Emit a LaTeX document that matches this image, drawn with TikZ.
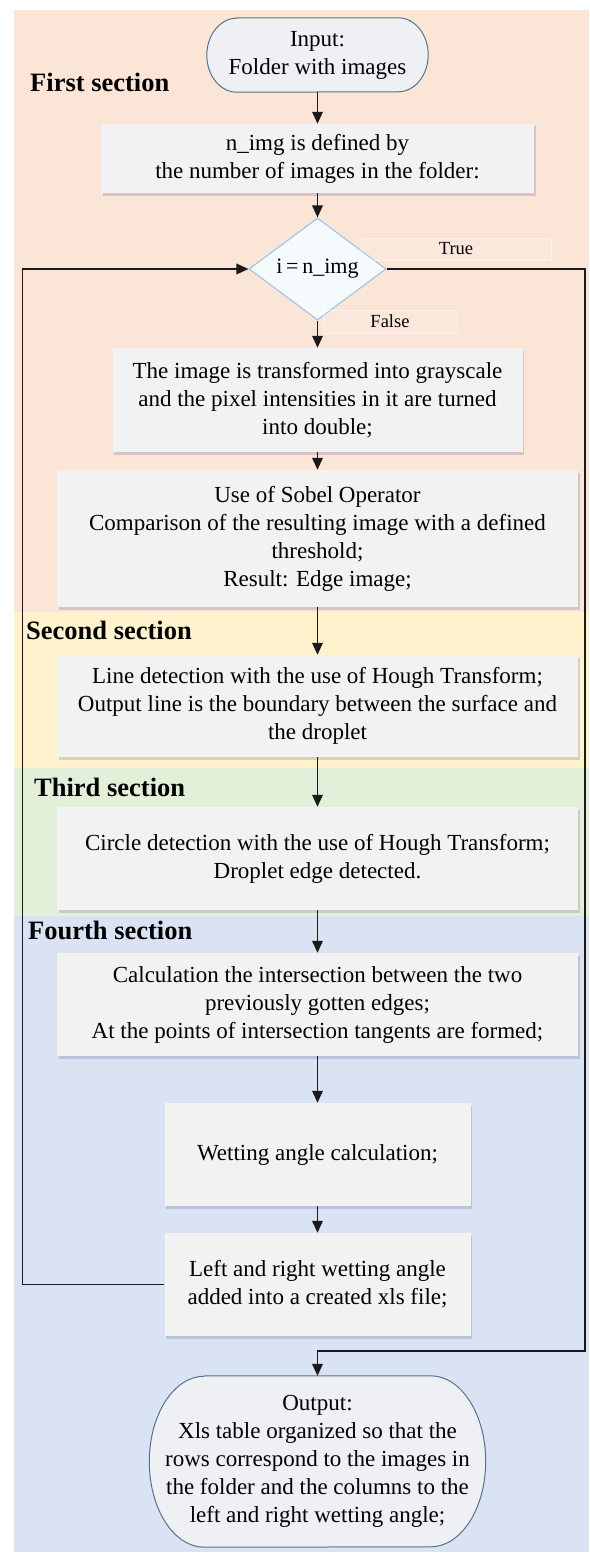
\documentclass[tikz,border=0pt]{standalone}
\usepackage{fontspec}
\setmainfont{Liberation Serif}
\usetikzlibrary{arrows.meta,shapes.geometric,shadows,calc}

\definecolor{bandA}{HTML}{FBE5D6}
\definecolor{bandB}{HTML}{FFF2CC}
\definecolor{bandC}{HTML}{E2F0D9}
\definecolor{bandD}{HTML}{DAE3F3}
\definecolor{boxfill}{HTML}{F2F2F2}
\definecolor{termfill}{HTML}{EEF0F4}
\definecolor{termline}{HTML}{56728F}
\definecolor{decfill}{HTML}{F5FAFD}
\definecolor{decline}{HTML}{9DC3E6}
\definecolor{wire}{HTML}{1A1A1A}

\pgfdeclarelayer{bands}
\pgfdeclarelayer{outline}
\pgfsetlayers{bands,outline,main}

\begin{document}
\begin{tikzpicture}[x=1pt,y=-1pt,
  every node/.style={font=\fontsize{23}{28}\selectfont, align=center, inner sep=0pt},
  procbox/.style={rectangle, fill=boxfill,
    drop shadow={shadow xshift=1.5pt, shadow yshift=-2.5pt, fill=black!55!blue, opacity=0.14}},
  termbox/.style={rectangle},
  termshape/.style={fill=termfill, draw=termline, line width=1pt},
  decision/.style={diamond, fill=decfill, draw=decline, line width=1.1pt,
    minimum width=137pt, minimum height=102pt, font=\fontsize{22}{26}\selectfont},
  flag/.style={rectangle, fill=white, fill opacity=0.15, draw=white, draw opacity=0.45,
    line width=0.6pt, text opacity=1, font=\fontsize{18.5}{22}\selectfont},
  seclabel/.style={anchor=west, font=\bfseries\fontsize{26.5}{30}\selectfont},
  arr/.style={draw=wire, line width=1.8pt, -{Triangle[width=10.5pt,length=12pt]}},
  rail/.style={draw=wire, line width=1.8pt}
]
\useasboundingbox (0,0) rectangle (589,1560);

% section bands
\begin{pgfonlayer}{bands}
  \fill[bandA] (13.5,10)  rectangle (589,612);
  \fill[bandB] (13.5,612) rectangle (589,768);
  \fill[bandC] (13.5,768) rectangle (589,916);
  \fill[bandD] (13.5,916) rectangle (589,1552);
\end{pgfonlayer}

% section titles
\node[seclabel] (s1) at (30,82)  {First section};
\node[seclabel] (s2) at (26,630) {Second section};
\node[seclabel] (s3) at (34,787) {Third section};
\node[seclabel] (s4) at (28,930) {Fourth section};

% flow steps
\node[termbox, minimum width=221pt, minimum height=74pt] (in) at (317.5,55)
  {Input:\\Folder with images};
\node[procbox, minimum width=433pt, minimum height=69pt] (def) at (317.5,158.5)
  {n\_img is defined by\\the number of images in the folder:};
\node[decision] (dec) at (317.5,269) {i\,=\,n\_img};
\node[flag, minimum width=190pt, minimum height=22pt] (tlab) at (456,249) {True};
\node[flag, minimum width=134pt, minimum height=23pt] (flab) at (390,321.5) {False};
\node[procbox, minimum width=410pt, minimum height=104pt] (gray) at (317.5,400)
  {The image is transformed into grayscale\\and the pixel intensities in it are turned\\into double;};
\node[procbox, minimum width=521pt, minimum height=137pt] (sob) at (317.5,538.5)
  {Use of Sobel Operator\\Comparison of the resulting image with a defined\\threshold;\\Result: Edge image;};
\node[procbox, minimum width=521pt, minimum height=102pt] (hline) at (317.5,706)
  {Line detection with the use of Hough Transform;\\Output line is the boundary between the surface and\\the droplet};
\node[procbox, minimum width=521pt, minimum height=103pt] (hcirc) at (317.5,858.5)
  {Circle detection with the use of Hough Transform;\\Droplet edge detected.};
\node[procbox, minimum width=521pt, minimum height=103pt] (isect) at (317.5,1004.5)
  {Calculation the intersection between the two\\previously gotten edges;\\At the points of intersection tangents are formed;};
\node[procbox, minimum width=306pt, minimum height=103pt] (wet) at (317.5,1154.5)
  {Wetting angle calculation;};
\node[procbox, minimum width=306pt, minimum height=103pt] (lr) at (317.5,1284.5)
  {Left and right wetting angle\\added into a created xls file;};
\node[termbox, minimum width=336pt, minimum height=171pt] (out) at (317.5,1461.5)
  {Output:\\Xls table organized so that the\\rows correspond to the images in\\the folder and the columns to the\\left and right wetting angle;};

% terminator outlines with elliptic ends
\begin{pgfonlayer}{outline}
  \path[termshape] ($(in.north west)+(30,0)$) -- ($(in.north east)+(-30,0)$)
    arc[start angle=-90, end angle=90, x radius=30, y radius=37]
    -- ($(in.south west)+(30,0)$)
    arc[start angle=90, end angle=270, x radius=30, y radius=37] -- cycle;
  \path[termshape] ($(out.north west)+(55,0)$) -- ($(out.north east)+(-55,0)$)
    arc[start angle=-90, end angle=90, x radius=55, y radius=85.5]
    -- ($(out.south west)+(55,0)$)
    arc[start angle=90, end angle=270, x radius=55, y radius=85.5] -- cycle;
\end{pgfonlayer}

% loop rails
\coordinate (leftrail) at (22.5,0);
\coordinate (rightrail) at (585,0);
\coordinate (merge) at (317.5,1351);

% connectors
\draw[arr] (in.south) -- (def.north);
\draw[arr] (def.south) -- (dec.north);
\draw[arr] (dec.south) -- (gray.north);
\draw[arr] (gray.south) -- (sob.north);
\draw[arr] (sob.south) -- (hline.north);
\draw[arr] (hline.south) -- (hcirc.north);
\draw[arr] (hcirc.south) -- (isect.north);
\draw[arr] (isect.south) -- (wet.north);
\draw[arr] (wet.south) -- (lr.north);
\draw[arr] (lr.west) -| (leftrail |- dec.west) -- (dec.west);
\draw[arr] (dec.east) -- (dec.east -| rightrail) |- (merge) -- (out.north);
\end{tikzpicture}
\end{document}
